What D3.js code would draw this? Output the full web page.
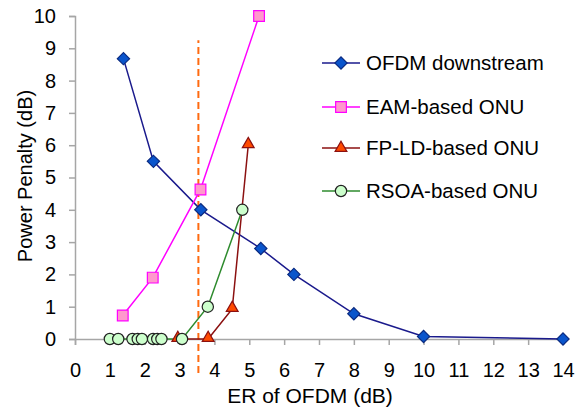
<!DOCTYPE html>
<html>
<head>
<meta charset="utf-8">
<script src="https://cdn.jsdelivr.net/npm/d3@7"></script>
<style>
  body { margin: 0; background: #fff; }
  text { font-family: "Liberation Sans", Arial, sans-serif; fill: #000; }
</style>
</head>
<body>
<svg width="584" height="411"></svg>
<script>
// data
var ofdmX = [1.39, 2.25, 3.61, 5.33, 6.28, 8.0, 10.0, 14.0];
var ofdmY = [8.68, 5.5, 4.0, 2.8, 2.0, 0.78, 0.08, 0.0];
var eamX = [1.37, 2.23, 3.6, 5.28];
var eamY = [0.73, 1.9, 4.63, 10.0];
var fpX = [2.95, 3.82, 4.51, 4.97];
var fpY = [0.0, 0.0, 0.93, 6.0];
var rsoaX = [1.0, 1.24, 1.65, 1.8, 1.92, 2.24, 2.36, 2.48, 3.07, 3.81, 4.8];
var rsoaY = [0, 0, 0, 0, 0, 0, 0, 0, 0, 1.0, 4.0];
var markerX = 3.54;             // dashed vertical line
var markerYRange = [-1.05, 9.25];
var xTicks = d3.range(0, 15);
var yTicks = d3.range(0, 11);
var seriesNames = ["OFDM downstream", "EAM-based ONU", "FP-LD-based ONU", "RSOA-based ONU"];

var svg = d3.select('svg');
var x = d3.scaleLinear().domain([0, 14]).range([75, 563]);
var y = d3.scaleLinear().domain([0, 10]).range([339, 16]);

function zip(xs, ys) {
    var out = [];
    for (var i = 0; i < xs.length; i++) out.push([xs[i], ys[i]]);
    return out;
}

var series = [
    {name: seriesNames[0], pts: zip(ofdmX, ofdmY), line: '#1a1a8c', fill: '#0a55cc', stroke: '#0a2a80', sym: d3.symbolSquare, size: 75, rot: 45},
    {name: seriesNames[1], pts: zip(eamX, eamY), line: '#ff00ff', fill: '#ff99cc', stroke: '#ff00ff', sym: d3.symbolSquare, size: 115, rot: 0},
    {name: seriesNames[2], pts: zip(fpX, fpY), line: '#8b1010', fill: '#ff4a00', stroke: '#8b1010', sym: d3.symbolTriangle, size: 60, rot: 0},
    {name: seriesNames[3], pts: zip(rsoaX, rsoaY), line: '#2e8b2e', fill: '#ccffcc', stroke: '#222', sym: d3.symbolCircle, size: 100, rot: 0}
];

// axes
var xAxis = d3.axisBottom(x).tickValues(xTicks).tickSize(6).tickPadding(18).tickFormat(d3.format('d'));
var yAxis = d3.axisLeft(y).tickValues(yTicks).tickSize(6).tickPadding(13).tickFormat(d3.format('d'));

var gx = svg.append('g').attr('transform', 'translate(0,' + y(0) + ')').call(xAxis);
var gy = svg.append('g').attr('transform', 'translate(' + x(0) + ',0)').call(yAxis);
[gx, gy].forEach(function(g) {
    g.select('.domain').attr('stroke', '#a6a6a6').attr('stroke-width', 1.5);
    g.selectAll('.tick line').attr('stroke', '#a6a6a6').attr('stroke-width', 1.5);
    g.selectAll('.tick text').style('font-size', '20px').attr('fill', '#000')
        .style('font-family', '"Liberation Sans", Arial, sans-serif');
});

svg.append('text')
    .attr('x', 310).attr('y', 403)
    .attr('text-anchor', 'middle')
    .style('font-size', '21px')
    .text('ER of OFDM (dB)');

svg.append('text')
    .attr('transform', 'translate(32,176) rotate(-90)')
    .attr('text-anchor', 'middle')
    .style('font-size', '20px')
    .text('Power Penalty (dB)');

// dashed line
svg.append('line')
    .attr('x1', x(markerX)).attr('x2', x(markerX))
    .attr('y1', y(markerYRange[0])).attr('y2', y(markerYRange[1]))
    .attr('stroke', '#ff6a10').attr('stroke-width', 2)
    .attr('stroke-dasharray', '7,4');

var line = d3.line().x(function(d) { return x(d[0]); }).y(function(d) { return y(d[1]); });

// lines first, markers on top
series.forEach(function(s) {
    svg.append('path')
        .attr('d', line(s.pts))
        .attr('fill', 'none')
        .attr('stroke', s.line)
        .attr('stroke-width', 1.5);
});
series.forEach(function(s) {
    svg.selectAll(null)
        .data(s.pts)
        .enter().append('path')
        .attr('d', d3.symbol().type(s.sym).size(s.size))
        .attr('transform', function(d) {
            var dy = s.sym === d3.symbolTriangle ? -1 : 0;
            return 'translate(' + x(d[0]) + ',' + (y(d[1]) + dy) + ') rotate(' + s.rot + ')';
        })
        .attr('fill', s.fill)
        .attr('stroke', s.stroke)
        .attr('stroke-width', 1.2);
});

// legend
var legY = [63, 107, 148, 191];
var leg = svg.append('g');
series.forEach(function(s, i) {
    leg.append('line')
        .attr('x1', 322).attr('x2', 360)
        .attr('y1', legY[i]).attr('y2', legY[i])
        .attr('stroke', s.line).attr('stroke-width', 1.5);
    leg.append('path')
        .attr('d', d3.symbol().type(s.sym).size(s.size))
        .attr('transform', 'translate(341,' + legY[i] + ') rotate(' + s.rot + ')')
        .attr('fill', s.fill)
        .attr('stroke', s.stroke)
        .attr('stroke-width', 1.2);
    leg.append('text')
        .attr('x', 366).attr('y', legY[i] + 7)
        .style('font-size', '20.5px')
        .text(s.name);
});
</script>
</body>
</html>
